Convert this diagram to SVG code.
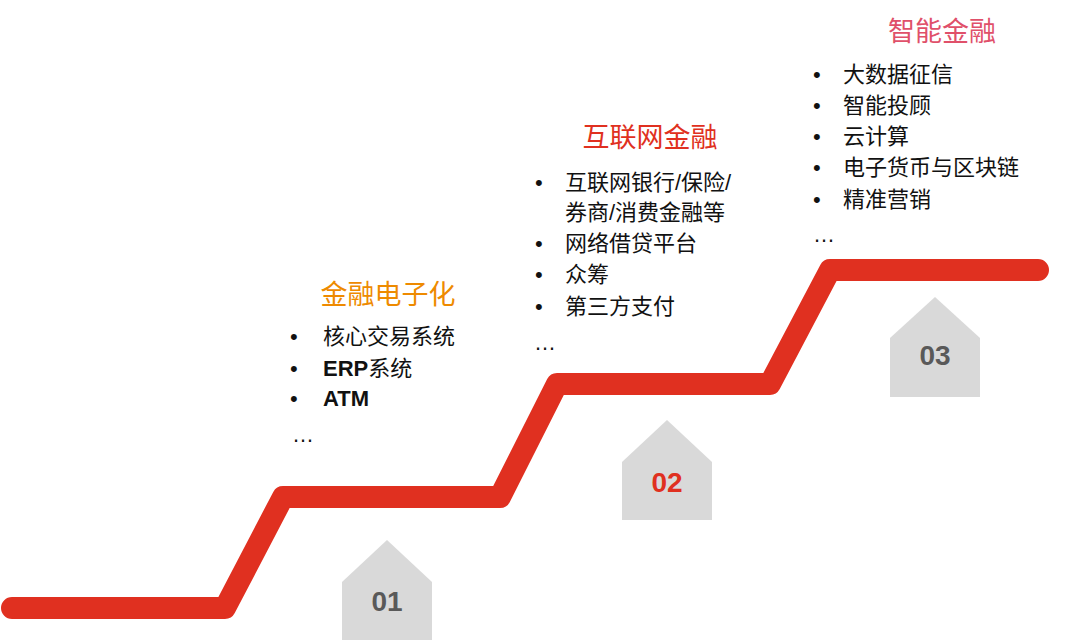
<svg xmlns="http://www.w3.org/2000/svg" width="1080" height="644" viewBox="0 0 1080 644">
<style>
.t{font-family:"Liberation Sans","Noto Sans CJK SC",sans-serif;font-size:22px;fill:#111}
.h{font-family:"Liberation Sans","Noto Sans CJK SC",sans-serif;font-size:27px;text-anchor:middle}
.n{font-family:"Liberation Sans",sans-serif;font-size:28px;font-weight:bold;text-anchor:middle;fill:#595959}
.house{fill:#d9d9d9}
</style>
<rect width="1080" height="644" fill="#fff"/>
<g id="connectors">
<polyline points="12,608 225,608 283,497 500,497 557,384 770,384 830,270 1038,270" fill="none" stroke="#e03020" stroke-width="22" stroke-linecap="round" stroke-linejoin="round"/>
</g>
<g id="step01">
<path class="house" d="M342,640 V582 L387,540 L432,582 V640 Z"/>
<text class="n" x="387" y="611">01</text>
</g>
<g id="step02">
<path class="house" d="M622,520 V462 L667,420 L712,462 V520 Z"/>
<text class="n" x="667" y="492" style="fill:#e03020">02</text>
</g>
<g id="step03">
<path class="house" d="M890,397 V338 L935,297 L980,338 V397 Z"/>
<text class="n" x="935" y="365">03</text>
</g>
<g id="stage1">
<text class="h" x="388" y="304" fill="#ee8a00">金融电子化</text>
<text class="t" x="290" y="344">•</text><text class="t" x="323" y="344">核心交易系统</text>
<text class="t" x="290" y="376">•</text><text class="t" x="323" y="376" font-weight="bold">ERP<tspan font-weight="normal">系统</tspan></text>
<text class="t" x="290" y="406">•</text><text class="t" x="323" y="406" font-weight="bold">ATM</text>
<text class="t" x="292" y="442">…</text>
</g>
<g id="stage2">
<text class="h" x="650" y="147" fill="#e03020">互联网金融</text>
<text class="t" x="535" y="190">•</text><text class="t" x="565" y="190">互联网银行/保险/</text>
<text class="t" x="565" y="220">券商/消费金融等</text>
<text class="t" x="535" y="251">•</text><text class="t" x="565" y="251">网络借贷平台</text>
<text class="t" x="535" y="282">•</text><text class="t" x="565" y="282">众筹</text>
<text class="t" x="535" y="314">•</text><text class="t" x="565" y="314">第三方支付</text>
<text class="t" x="534" y="350">…</text>
</g>
<g id="stage3">
<text class="h" x="942" y="41" fill="#e0506a">智能金融</text>
<text class="t" x="813" y="82">•</text><text class="t" x="843" y="82">大数据征信</text>
<text class="t" x="813" y="113">•</text><text class="t" x="843" y="113">智能投顾</text>
<text class="t" x="813" y="144">•</text><text class="t" x="843" y="144">云计算</text>
<text class="t" x="813" y="175">•</text><text class="t" x="843" y="175">电子货币与区块链</text>
<text class="t" x="813" y="207">•</text><text class="t" x="843" y="207">精准营销</text>
<text class="t" x="813" y="242">…</text>
</g>
</svg>
